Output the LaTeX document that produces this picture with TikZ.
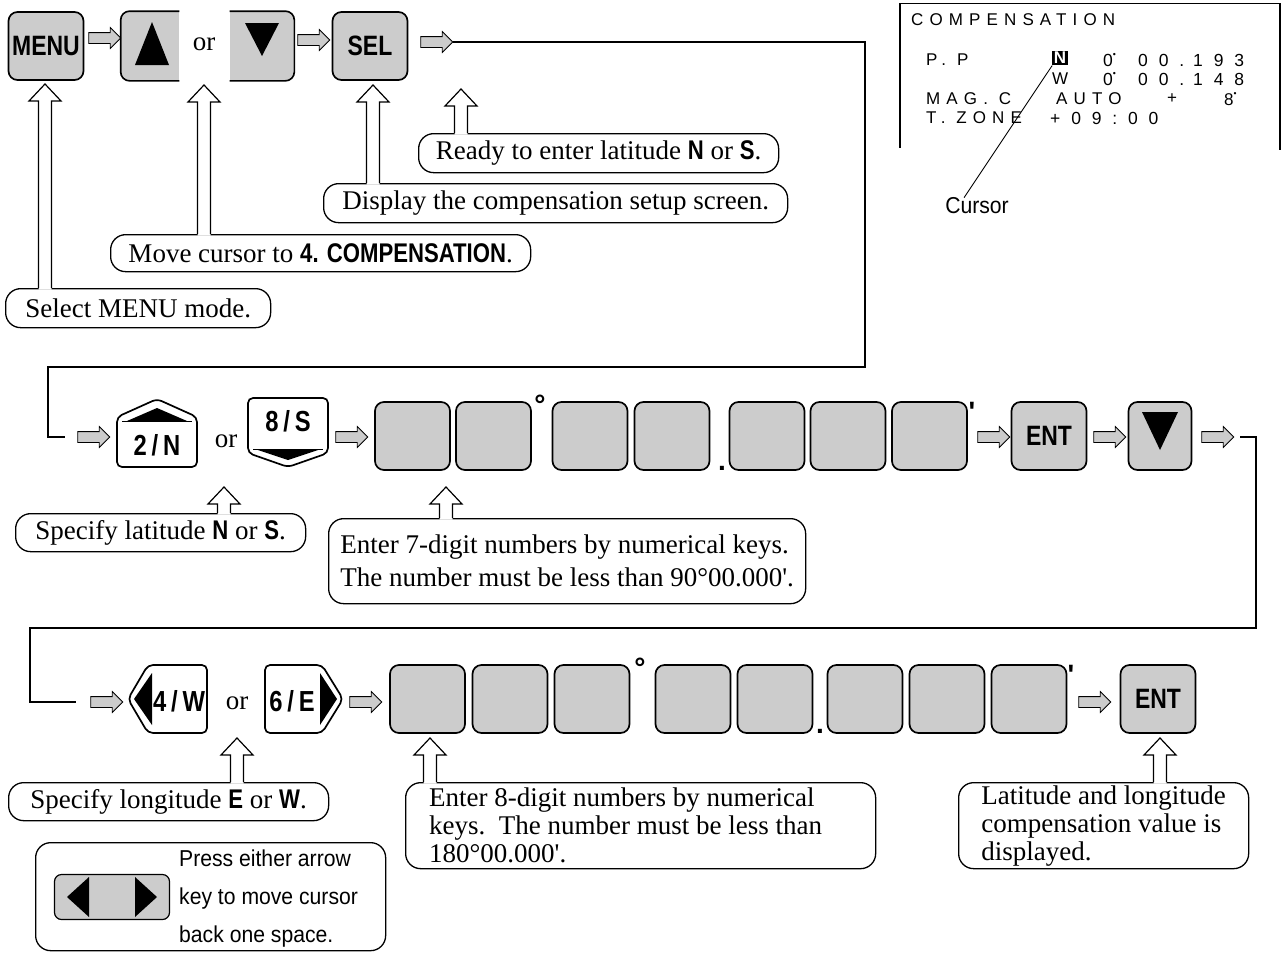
\documentclass[tikz,border=0pt]{standalone}
\usepackage{fontspec}
\setmainfont{Liberation Serif}
\newfontfamily\keyfont[FakeStretch=0.82]{Liberation Sans}
\newfontfamily\notefont[FakeStretch=0.92]{Liberation Sans}
\newfontfamily\lcdfont[LetterSpace=36]{Liberation Sans}
\newfontfamily\lcdwide[LetterSpace=62]{Liberation Sans}
\newfontfamily\lcdplain{Liberation Sans}
\usepackage{tikz}
\usetikzlibrary{arrows.meta}
\usetikzlibrary{shapes.arrows}
\usetikzlibrary{positioning}
\usetikzlibrary{calc}

\definecolor{keygray}{gray}{0.80}
\newcommand{\callfont}{\fontsize{27}{28}\selectfont}
\newcommand{\bsans}[1]{{\keyfont\bfseries #1}}
\newcommand{\lcddeg}{\raisebox{0.55em}{\scalebox{0.5}{•}}}

% hollow pointer from a callout up to a key
\newcommand{\pointer}[2]{%
  \fill[white] let \p1=(#1), \p2=(#2.north) in
    (\x1-6.5pt,\y2-1.5pt) -- (\x1-6.5pt,\y1-17pt) -- (\x1-16pt,\y1-17pt) -- (\x1,\y1)
    -- (\x1+16pt,\y1-17pt) -- (\x1+6.5pt,\y1-17pt) -- (\x1+6.5pt,\y2-1.5pt) -- cycle;
  \draw[ptrline] let \p1=(#1), \p2=(#2.north) in
    (\x1-6.5pt,\y2) -- (\x1-6.5pt,\y1-17pt) -- (\x1-16pt,\y1-17pt) -- (\x1,\y1)
    -- (\x1+16pt,\y1-17pt) -- (\x1+6.5pt,\y1-17pt) -- (\x1+6.5pt,\y2);}

\tikzset{
  keyline/.style={line width=1.7pt, rounded corners=9pt},
  keybox/.style={draw, line width=1.7pt, rounded corners=9pt, fill=keygray,
    minimum width=75pt, minimum height=68pt, inner sep=0pt,
    font=\keyfont\bfseries\fontsize{28}{28}\selectfont},
  shapekey/.style={line width=1.7pt, rounded corners=5pt},
  keytext/.style={font=\keyfont\bfseries\fontsize{29}{29}\selectfont, inner sep=0pt},
  flowarr/.style={single arrow, draw, fill=keygray, line width=0.8pt,
    minimum height=32pt, inner xsep=0pt, inner ysep=5pt, single arrow head extend=5pt},
  wire/.style={line width=1.3pt},
  ptrline/.style={line width=1.2pt},
  callout/.style={draw, line width=1.3pt, rounded corners=15pt, inner sep=0pt,
    font=\callfont, anchor=north west},
  lcd/.style={font=\lcdfont\fontsize{17}{20}\selectfont, inner sep=0pt},
  lcdnum/.style={font=\lcdwide\fontsize{17.5}{20}\selectfont, inner sep=0pt, anchor=west},
  notestyle/.style={font=\notefont\fontsize{23}{38}\selectfont, inner sep=0pt},
  unitmark/.style={font=\lcdplain\bfseries\fontsize{28}{28}\selectfont, inner sep=0pt, anchor=base},
}

\begin{document}
\begin{tikzpicture}[x=1pt,y=-1pt]
  \useasboundingbox (0,0) rectangle (1282,956);

  % first row: MENU, cursor keys, SEL
  \node[keybox] (menu) at (46,46) {MENU};
  \node[flowarr] (f1) at (102,38) {};
  \node[keybox, draw=none, minimum width=57pt] (upk) at (150,46) {};
  \fill[keygray] (upk.north) rectangle (upk.south east);
  \draw[keyline] (upk.north east) -- (upk.north west) -- (upk.south west) -- (upk.south east);
  \fill ([shift={(2,-24)}]upk.center) -- ++(17,43) -- ++(-34,0) -- cycle;
  \node[font=\callfont] (or1) at (204,44) {or};
  \node[keybox, draw=none, minimum width=63pt] (dnk) at (262,46) {};
  \fill[keygray] (dnk.north west) rectangle (dnk.south);
  \draw[keyline] (dnk.north west) -- (dnk.north east) -- (dnk.south east) -- (dnk.south west);
  \fill ([shift={(-17,-23)}]dnk.center) -- ++(34,0) -- ++(-17,33) -- cycle;
  \node[flowarr] (f2) at (311,40) {};
  \node[keybox] (sel) at (370,46) {SEL};
  \node[flowarr] (f3) at (434,42) {};

  \coordinate (t1) at (865,367);
  \coordinate (t2) at (48,437);
  \node[flowarr] (f5) at (91,437) {};
  \draw[wire, shorten >=12pt] (f3.east) -| (t1) -| (t2) -- (f5.west);

  % callouts of the first row
  \node[callout, minimum width=360pt, minimum height=39pt] (cready) at (418,133)
    {Ready to enter latitude \bsans{N} or \bsans{S}.};
  \node[callout, minimum width=464pt, minimum height=39pt] (cdisp) at (323,183)
    {Display the compensation setup screen.};
  \node[callout, minimum width=420pt, minimum height=37pt] (cmove) at (110,234)
    {Move cursor to \bsans{4. COMPENSATION}.};
  \node[callout, minimum width=265pt, minimum height=39pt] (csel) at (5,288)
    {Select MENU mode.};
  \coordinate (pmenu) at (45,84);
  \coordinate (pcur) at (204,85);
  \coordinate (psel) at (373,85);
  \coordinate (pready) at (461,89);
  \pointer{pmenu}{csel}
  \pointer{pcur}{cmove}
  \pointer{psel}{cdisp}
  \pointer{pready}{cready}

  % compensation screen
  \draw[line width=0.6pt] (900,3) -- (1280,3);
  \draw[line width=1.3pt] (900,3) -- (900,148);
  \draw[line width=1.3pt] (1280,3) -- (1280,150);
  \node[lcd, anchor=west] (scrtitle) at (911,20) {COMPENSATION};
  \node[lcd, anchor=west] (scrpp) at (926,60) {P. P};
  \node[fill=black, text=white, font=\lcdplain\bfseries\fontsize{17}{17}\selectfont,
    inner sep=1.5pt] (cur) at (1060,58) {N};
  \node[lcdnum] (latdeg) at (1103,60) {0\lcddeg};
  \node[lcdnum] (latmin) at (1138,60) {00.};
  \node[lcdnum] (latsec) at (1193,60) {193};
  \node[lcd, anchor=west] (scrw) at (1052,79) {W};
  \node[lcdnum] (londeg) at (1103,79) {0\lcddeg};
  \node[lcdnum] (lonmin) at (1138,79) {00.};
  \node[lcdnum] (lonsec) at (1193,79) {148};
  \node[lcd, anchor=west] (scrmag) at (926,99) {MAG. C};
  \node[lcd, anchor=west] (scrauto) at (1056,99) {AUTO};
  \node[lcd] (scrplus) at (1172,99) {+};
  \node[lcd, anchor=west] (scrvar) at (1224,99) {8\lcddeg};
  \node[lcd, anchor=west] (scrtz) at (926,118) {T. ZONE};
  \node[lcdnum] (scrtzv) at (1050,118) {+09:00};
  \node[notestyle] (cursorlbl) at (977,206) {Cursor};
  \draw[line width=0.9pt] (cur.south west) -- ([shift={(19,0)}]cursorlbl.north west);

  % second row: latitude
  \draw[shapekey] (117,467) -- (117,417) -- (157,399) -- (197,417) -- (197,467) -- cycle;
  \fill (127,421) -- (157,408) -- (187,421) -- cycle;
  \draw[line width=1pt] (122,421) -- (192,421);
  \node[keytext] (kn) at (157,445) {2\,/\,N};
  \node[font=\callfont] (or2) at (226,441) {or};
  \draw[shapekey] (248,398) -- (328,398) -- (328,453) -- (288,467) -- (248,453) -- cycle;
  \fill (255,449) -- (321,449) -- (288,460) -- cycle;
  \draw[line width=1pt] (253,449) -- (323,449);
  \node[keytext] (ks) at (288,421) {8\,/\,S};
  \node[flowarr] (f6) at (349,437) {};
  \foreach \x [count=\i] in {412.5,493.5,590,672,767,848,929.5}
    \node[keybox] (la\i) at (\x,436) {};
  \node[unitmark] (ladeg) at (540,414) {°};
  \node[unitmark] (lapt) at (722,470) {.};
  \node[unitmark] (lamin) at (972,421) {'};
  \node[flowarr] (f7) at (991,437) {};
  \node[keybox] (ent1) at (1049,436) {ENT};
  \node[flowarr] (f8) at (1107,437) {};
  \node[keybox, minimum width=63pt] (dn2) at (1160,436) {};
  \fill ([shift={(-18,-24)}]dn2.center) -- ++(36,0) -- ++(-18,38) -- cycle;
  \node[flowarr] (f9) at (1215,437) {};

  \coordinate (t3) at (1256,628);
  \coordinate (t4) at (30,702);
  \node[flowarr] (f10) at (104,702) {};
  \draw[wire, shorten <=6pt, shorten >=14pt] (f9.east) -| (t3) -| (t4) -- (f10.west);

  % callouts of the second row
  \node[callout, minimum width=290pt, minimum height=38pt] (clat) at (15,513)
    {Specify latitude \bsans{N} or \bsans{S}.};
  \node[callout, minimum width=477pt, minimum height=85pt, align=left,
    font=\fontsize{27}{33}\selectfont] (cseven) at (328,518)
    {Enter 7-digit numbers by numerical keys.\\The number must be less than 90°00.000\textquotesingle.};
  \coordinate (por2) at (224,487);
  \coordinate (pla) at (446,487);
  \pointer{por2}{clat}
  \pointer{pla}{cseven}

  % third row: longitude
  \draw[shapekey] (148,665) -- (207,665) -- (207,733) -- (148,733) -- (128,699) -- cycle;
  \fill (152,673) -- (152,725) -- (134,699) -- cycle;
  \node[keytext] (kw) at (179,701) {4\,/\,W};
  \node[font=\callfont] (or3) at (237,703) {or};
  \draw[shapekey] (265,665) -- (322,665) -- (343,699) -- (322,733) -- (265,733) -- cycle;
  \fill (320,673) -- (337,699) -- (320,725) -- cycle;
  \node[keytext] (ke) at (292,701) {6\,/\,E};
  \node[flowarr] (f11) at (363,702) {};
  \foreach \x [count=\i] in {427.5,510,592,693,775,865,947,1029}
    \node[keybox] (lo\i) at (\x,699) {};
  \node[unitmark] (lodeg) at (640,677) {°};
  \node[unitmark] (lopt) at (820,733) {.};
  \node[unitmark] (lomin) at (1071,684) {'};
  \node[flowarr] (f12) at (1092,702) {};
  \node[keybox] (ent2) at (1158,699) {ENT};

  % callouts of the third row
  \node[callout, minimum width=320pt, minimum height=38pt] (clong) at (8,782)
    {Specify longitude \bsans{E} or \bsans{W}.};
  \node[callout, minimum width=470pt, minimum height=86pt, align=left,
    font=\fontsize{27}{28}\selectfont] (ceight) at (405,782)
    {Enter 8-digit numbers by numerical\\keys.\ \ The number must be less than\hspace*{30pt}\mbox{}\\180°00.000\textquotesingle.};
  \node[callout, minimum width=290pt, minimum height=86pt, align=left,
    font=\fontsize{27}{28}\selectfont] (cdone) at (958,782)
    {Latitude and longitude\\compensation value is\\displayed.};
  \coordinate (por3) at (237,738);
  \coordinate (plo) at (430,738);
  \coordinate (pent) at (1160,738);
  \pointer{por3}{clong}
  \pointer{plo}{ceight}
  \pointer{pent}{cdone}

  % note on the cursor keys
  \node[callout, minimum width=350pt, minimum height=108pt] (cpress) at (35,842) {};
  \node[keybox, minimum width=115pt, minimum height=45pt, rounded corners=7pt,
    line width=1.2pt] (lrkey) at (112,897) {};
  \fill ([shift={(-45,0)}]lrkey.center) -- ++(22,-20) -- ++(0,40) -- cycle;
  \fill ([shift={(45,0)}]lrkey.center) -- ++(-22,-20) -- ++(0,40) -- cycle;
  \node[notestyle, anchor=west, align=left] (presstxt) at (179,899)
    {Press either arrow\\key to move cursor\\back one space.};
\end{tikzpicture}
\end{document}
